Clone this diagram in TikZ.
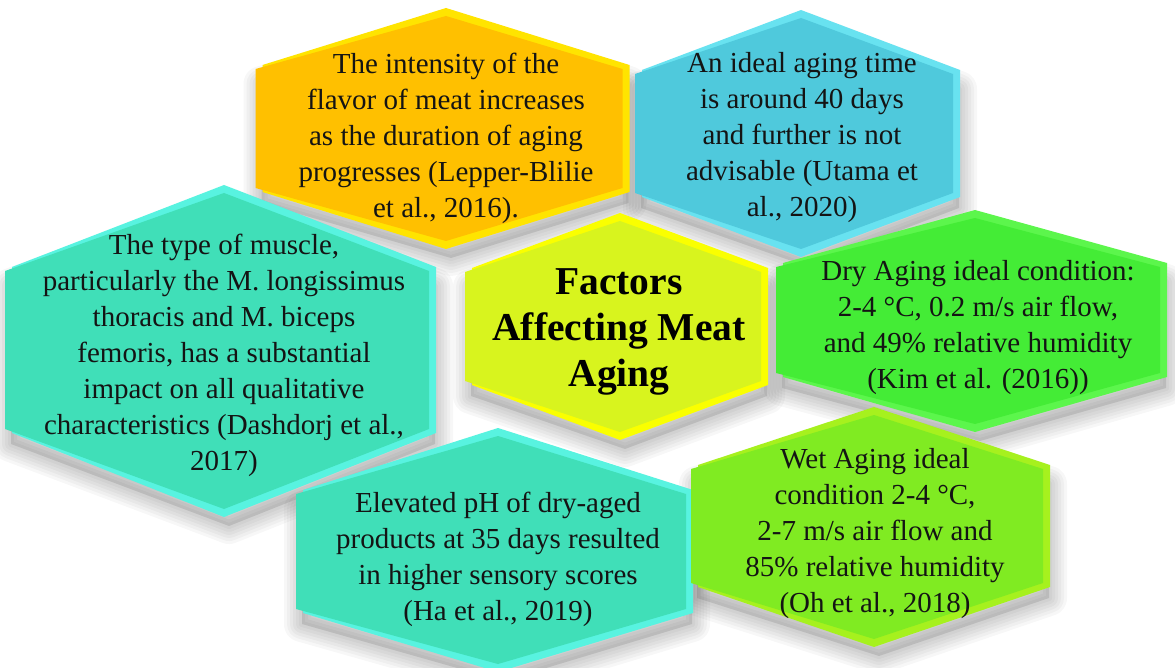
\documentclass[tikz,border=0pt]{standalone}
\usepackage{fontspec}
\setmainfont{Liberation Serif}
\definecolor{orgM}{HTML}{FFC000}\definecolor{orgB}{HTML}{FFE400}
\definecolor{bluM}{HTML}{4FC9DC}\definecolor{bluB}{HTML}{68E2F0}
\definecolor{teaM}{HTML}{40DFB8}\definecolor{teaB}{HTML}{58F3E0}
\definecolor{yelM}{HTML}{D8F41E}\definecolor{yelB}{HTML}{FAFF00}
\definecolor{grnM}{HTML}{44EC36}\definecolor{grnB}{HTML}{5CF64C}
\definecolor{limM}{HTML}{80EB22}\definecolor{limB}{HTML}{A6F11E}
\definecolor{txt}{HTML}{141414}
% hexagon outline: cx, top, sidetop, sidebottom, bottom, halfwidth
\newcommand{\hexoutline}[6]{(#1,#2) -- ({#1+#6},#3) -- ({#1+#6},#4) -- (#1,#5) -- ({#1-#6},#4) -- ({#1-#6},#3) -- cycle}
\newcommand{\hexshadow}[6]{%
  \foreach \lw in {36,30,24,18,12,6}{%
    \draw[black,draw opacity=0.032,line width=\lw pt,line join=round,xshift=5pt,yshift=-13pt] \hexoutline{#1}{#2+8}{#3+6}{#4-2}{#5-4}{#6-6};}
  \fill[black,opacity=0.1,xshift=5pt,yshift=-13pt] \hexoutline{#1}{#2+8}{#3+6}{#4-2}{#5-4}{#6-6};}
\newcommand{\hexbody}[8]{%
  \fill[#8] \hexoutline{#1}{#2}{#3}{#4}{#5}{#6};
  \fill[#7] \hexoutline{#1}{#2+8}{#3+4}{#4-4}{#5-8}{#6-7};}
\tikzset{
  body/.style={align=center,text=txt,font=\fontsize{29}{36}\selectfont},
  title/.style={align=center,text=black,font=\bfseries\fontsize{39.5}{46}\selectfont}
}
\begin{document}
\begin{tikzpicture}[x=1pt,y=-1pt]
\useasboundingbox[fill=white] (0,0) rectangle (1175,668);
% shadows
\hexshadow{446}{8}{65}{192}{249}{183.5}
\hexshadow{801}{10}{70}{197}{257}{159}
\hexshadow{224}{185}{267}{433}{517}{212}
\hexshadow{620}{213}{268}{385}{440}{148}
\hexshadow{975}{210}{263}{377}{432}{192}
\hexshadow{498}{428}{490}{613}{672}{195}
\hexshadow{874}{407}{465}{587}{647}{176}
% hexagons
\hexbody{446}{8}{65}{192}{249}{183.5}{orgM}{orgB}
\hexbody{801}{10}{70}{197}{257}{159}{bluM}{bluB}
\hexbody{224}{185}{267}{433}{517}{212}{teaM}{teaB}
\hexbody{620}{213}{268}{385}{440}{148}{yelM}{yelB}
\hexbody{975}{210}{263}{377}{432}{192}{grnM}{grnB}
\hexbody{498}{428}{490}{613}{672}{195}{teaM}{teaB}
\hexbody{874}{407}{465}{587}{647}{176}{limM}{limB}
% texts
\node[body] (flavor) at (446,138) {The intensity of the\\flavor of meat increases\\as the duration of aging\\progresses (Lepper-Blilie\\et al., 2016).};
\node[body] (time) at (802,138) {An ideal aging time\\is around 40 days\\and further is not\\advisable (Utama et\\al., 2020)};
\node[body] (muscle) at (224,355) {The type of muscle,\\particularly the M. longissimus\\thoracis and M. biceps\\femoris, has a substantial\\impact on all qualitative\\characteristics (Dashdorj et al.,\\2017)};
\node[title] (center) at (619,332) {Factors\\Affecting Meat\\Aging};
\node[body] (dry) at (978,328) {Dry Aging ideal condition:\\2-4 °C, 0.2 m/s air flow,\\and 49\% relative humidity\\(Kim et al. (2016))};
\node[body] (ph) at (498,559) {Elevated pH of dry-aged\\products at 35 days resulted\\in higher sensory scores\\(Ha et al., 2019)};
\node[body] (wet) at (875,534) {Wet Aging ideal\\condition 2-4 °C,\\2-7 m/s air flow and\\85\% relative humidity\\(Oh et al., 2018)};
\end{tikzpicture}
\end{document}
